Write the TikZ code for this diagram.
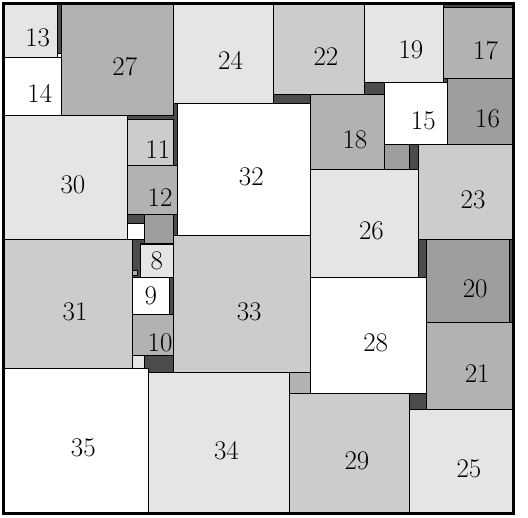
\documentclass[tikz,border=0pt]{standalone}
\usepackage{xcolor}
\usepackage{tikz}
\usetikzlibrary{calc}
\definecolor{pale}{gray}{0.90}
\definecolor{light}{gray}{0.80}
\definecolor{mid}{gray}{0.70}
\definecolor{deep}{gray}{0.62}
\definecolor{gap}{gray}{0.30}

\begin{document}
\begin{tikzpicture}[x=1mm, y=-1mm,
  tile/.style={draw=black, line width=0.7pt},
  frame/.style={draw=black, line width=2pt},
  num/.style={inner sep=0pt, font=\fontsize{18.5pt}{22pt}\selectfont}
]
\useasboundingbox (-0.85,-0.85) rectangle (126.5,123.85);

% Empty space of the container.
\fill[gap] (0,0) rectangle (123,123);

% Small unlabelled squares.
\foreach \x/\y/\s/\c in {13/12/1/white, 31/64.3/1.3/mid, 31/85/3/pale,
    30/53/4/white, 69/89/5/mid, 92/34/6/deep, 34/51/7/deep}
  \draw[tile, fill=\c] (\x,\y) rectangle ++(\s,\s);

% Single-digit squares.
\foreach \x/\y/\s/\c in {33/58/8/pale, 31/66/9/white} {
  \draw[tile, fill=\c] (\x,\y) rectangle ++(\s,\s);
  \node[num] (n\s) at ({\x+\s/2},{\y+\s/2}) {\s};
}

% Labelled squares.
\foreach \x/\y/\s/\c in {31/75/10/mid, 30/28/11/light, 30/39/12/mid,
    0/0/13/pale, 0/13/14/white, 92/19/15/white, 107/18/16/deep,
    106/1/17/mid, 74/22/18/mid, 87/0/19/pale, 102/57/20/deep,
    102/77/21/mid, 65/0/22/light, 100/34/23/light, 41/0/24/pale,
    98/98/25/pale, 74/40/26/pale, 14/0/27/mid, 74/66/28/white,
    69/94/29/light, 0/27/30/pale, 0/57/31/light, 42/24/32/white,
    41/56/33/light, 35/89/34/pale, 0/88/35/white} {
  \draw[tile, fill=\c] (\x,\y) rectangle ++(\s,\s);
  \node[num] (n\s) at ({\x+\s/2+1.75},{\y+\s/2+1.75}) {\s};
}

% Container.
\draw[frame] (0,0) rectangle (123,123);

\end{tikzpicture}
\end{document}
